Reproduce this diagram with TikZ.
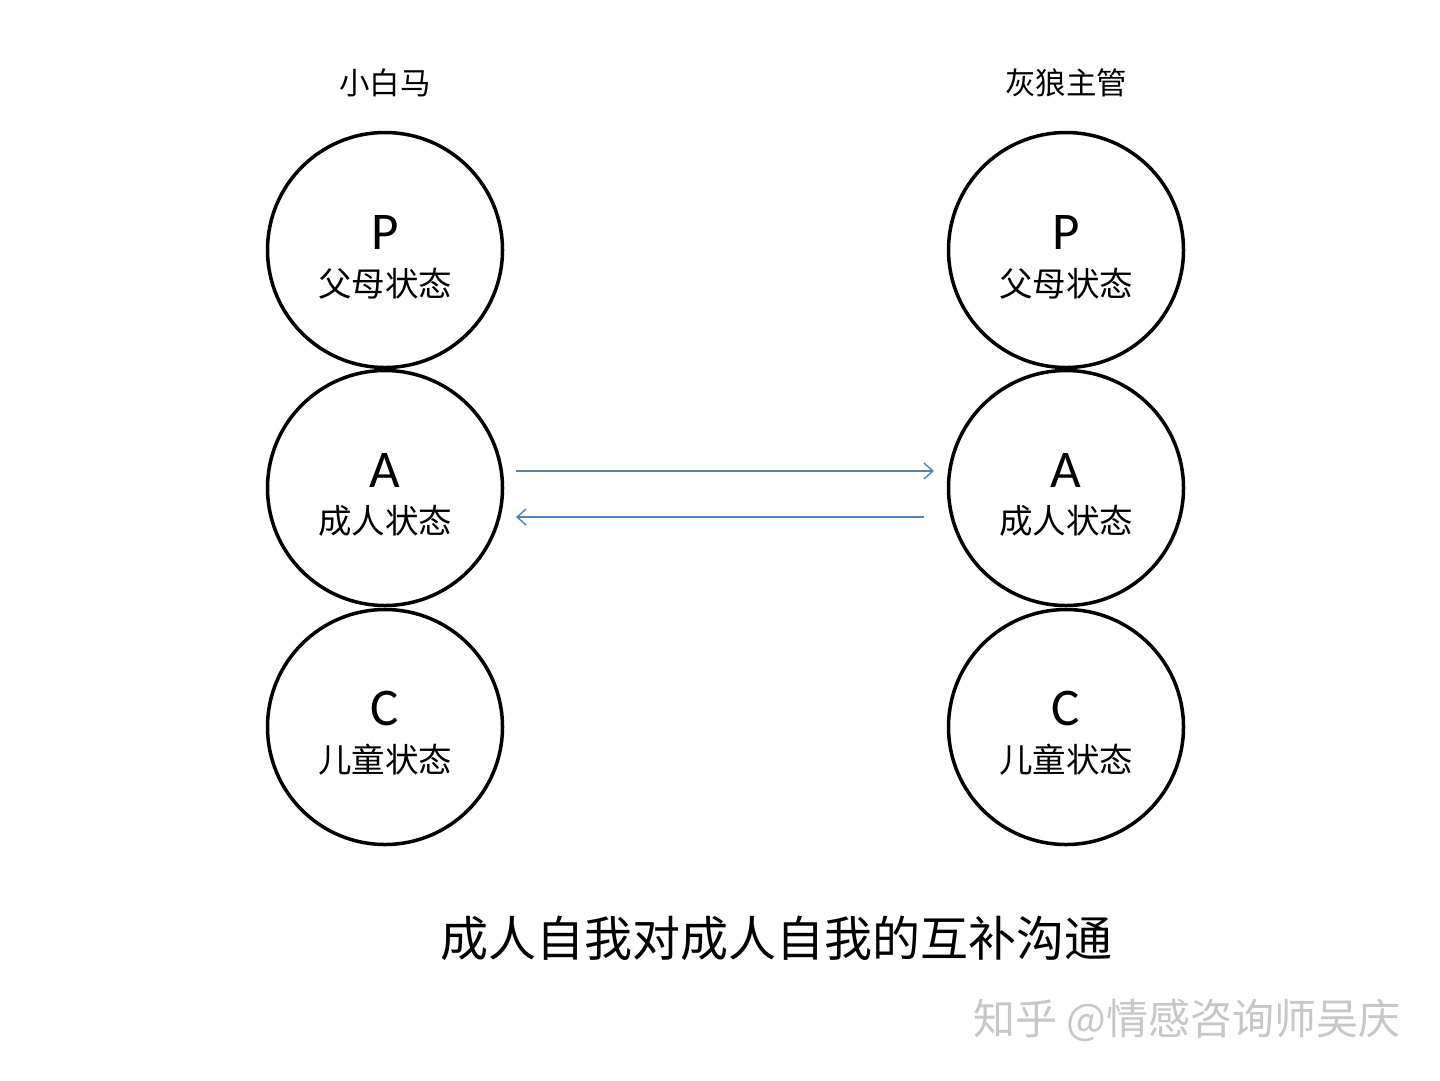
\documentclass[tikz,border=0pt]{standalone}
\usepackage{fontspec}
\setmainfont{Carlito}
\newfontfamily\cjk{Noto Sans CJK SC}
\usetikzlibrary{arrows.meta}
\definecolor{arrowblue}{HTML}{4F81BD}
\begin{document}
\begin{tikzpicture}[x=1pt,y=-1pt,
  state/.style={circle,draw=black,line width=3.5pt,minimum size=235pt,inner sep=0pt},
  letter/.style={font=\fontsize{53}{53}\selectfont,anchor=center},
  label/.style={font=\cjk\fontsize{33.5}{33.5}\selectfont,anchor=center},
  title/.style={font=\cjk\fontsize{30.5}{30.5}\selectfont,anchor=center},
  msg/.style={draw=arrowblue,line width=1.4pt,-{Straight Barb[length=9pt,width=16pt,line width=1.4pt]}}]
\useasboundingbox (0,0) rectangle (1440,1080);
\fill[white] (0,0) rectangle (1440,1080);
% left
\node[title] (tl) at (385,83) {小白马};
\node[state] (lp) at (385,250) {};
\node[state] (la) at (385,488) {};
\node[state] (lc) at (385,727) {};
\node[letter] (lpl) at (385,232) {P};
\node[label] (lpt) at (385,284) {父母状态};
\node[letter] (lal) at (385,470) {A};
\node[label] (lat) at (385,521) {成人状态};
\node[letter] (lcl) at (385,708) {C};
\node[label] (lct) at (385,760) {儿童状态};
% right
\node[title] (tr) at (1066,83) {灰狼主管};
\node[state] (rp) at (1066,250) {};
\node[state] (ra) at (1066,488) {};
\node[state] (rc) at (1066,727) {};
\node[letter] (rpl) at (1066,232) {P};
\node[label] (rpt) at (1066,284) {父母状态};
\node[letter] (ral) at (1066,470) {A};
\node[label] (rat) at (1066,521) {成人状态};
\node[letter] (rcl) at (1066,708) {C};
\node[label] (rct) at (1066,760) {儿童状态};
% arrows
\coordinate (a1s) at (516,471);
\coordinate (a1e) at (934,471);
\coordinate (a2s) at (924,517);
\coordinate (a2e) at (516,517);
\draw[msg] (a1s) -- (a1e);
\draw[msg] (a2s) -- (a2e);
% caption
\node[font=\cjk\fontsize{48}{48}\selectfont] (cap) at (776,938) {成人自我对成人自我的互补沟通};
% watermark
\node[font=\cjk\fontsize{42}{42}\selectfont,text=black!22] (wm) at (1187,1020) {知乎 @情感咨询师吴庆};
\end{tikzpicture}
\end{document}
